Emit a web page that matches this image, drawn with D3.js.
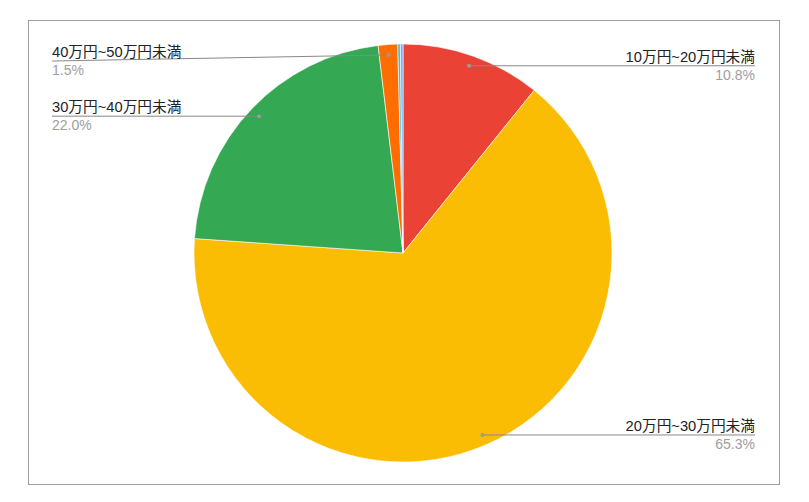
<!DOCTYPE html>
<html>
 <head>
  <meta charset="utf-8" />
  <title>Pie</title>
  <script src="https://cdn.jsdelivr.net/npm/d3@7"></script>
  <style>
    body { margin: 0; background: #fff; }
    text { font-family: "Liberation Sans", Arial, "Noto Sans CJK JP", sans-serif; font-size: 14px; }
    text.name { font-size: 14.7px; }
  </style>
 </head>
 <body>
  <script>
    // slices, clockwise from 12 o'clock
    var categories = ["10万円~20万円未満", "20万円~30万円未満", "30万円~40万円未満",
                      "40万円~50万円未満", "50万円~60万円未満", "60万円以上"];
    var values = [10.8, 65.3, 22.0, 1.5, 0.2, 0.2];
    var colors = ["#ea4335", "#fbbc04", "#34a853", "#ff6d01", "#46bdc6", "#7baaf7"];

    var W = 809, H = 502,
        cx = 403, cy = 253, R = 209,
        rightX = 755, leftX = 52, topLine = 61;

    var svg = d3.select("body").append("svg")
        .attr("width", W)
        .attr("height", H);

    svg.append("rect")
        .attr("x", 28.5).attr("y", 20.5)
        .attr("width", 751).attr("height", 464)
        .attr("fill", "none")
        .attr("stroke", "#9e9e9e");

    var data = categories.map(function(c, i) {
      return {name: c, value: values[i], color: colors[i]};
    });

    var pie = d3.pie().sort(null).value(function(d) { return d.value; });
    var arc = d3.arc().innerRadius(0).outerRadius(R);
    var dotArc = d3.arc().innerRadius(R * 0.95).outerRadius(R * 0.95);

    var g = svg.append("g").attr("transform", "translate(" + cx + "," + cy + ")");

    g.selectAll("path")
      .data(pie(data))
      .enter().append("path")
        .attr("d", arc)
        .attr("fill", function(d) { return d.data.color; })
        .attr("stroke", "#fff")
        .attr("stroke-width", 0.6);

    var total = d3.sum(values);
    var labelled = pie(data).filter(function(d) { return d.data.value >= 1; });

    g.selectAll("g.lab")
      .data(labelled)
      .enter().append("g").attr("class", "lab")
      .each(function(d) {
        var p = dotArc.centroid(d),
            mid = (d.startAngle + d.endAngle) / 2,
            right = mid < Math.PI,
            lx = (right ? rightX : leftX) - cx,
            ly = Math.max(p[1], topLine - cy),
            sel = d3.select(this);

        sel.append("path")
          .attr("d", "M" + p[0] + "," + p[1] + "L" + lx + "," + ly)
          .attr("fill", "none")
          .attr("stroke", "#888")
          .attr("stroke-width", 1);
        sel.append("circle")
          .attr("cx", p[0]).attr("cy", p[1]).attr("r", 2)
          .attr("fill", "#999");
        sel.append("text")
          .attr("class", "name")
          .attr("x", lx).attr("y", ly - 4)
          .attr("text-anchor", right ? "end" : "start")
          .attr("fill", "#222")
          .text(d.data.name);
        sel.append("text")
          .attr("x", lx).attr("y", ly + 14)
          .attr("text-anchor", right ? "end" : "start")
          .attr("fill", "#9e9e9e")
          .text((d.data.value / total * 100).toFixed(1) + "%");
      });
  </script>
 </body>
</html>
